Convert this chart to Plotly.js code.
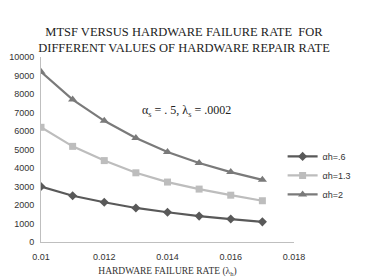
<!DOCTYPE html>
<html>
<head>
<meta charset="utf-8">
<script src="https://cdn.plot.ly/plotly-3.0.1.min.js"></script>
<style>
  html, body { margin: 0; padding: 0; background: #fff; }
  #chart { width: 368px; height: 280px; }
</style>
</head>
<body>
<div id="chart"></div>
<script>
// Hardware failure rate (lambda_h)
const failureRate = [0.010, 0.011, 0.012, 0.013, 0.014, 0.015, 0.016, 0.017];

// MTSF for each hardware repair rate
const mtsfAh06 = [3000, 2500, 2150, 1840, 1610, 1400, 1240, 1090];
const mtsfAh13 = [6200, 5170, 4400, 3740, 3240, 2860, 2530, 2230];
const mtsfAh2  = [9200, 7700, 6550, 5620, 4860, 4270, 3780, 3360];

const seriesNames = ['αh=.6', 'αh=1.3', 'αh=2'];

const xTicks = [0.010, 0.012, 0.014, 0.016, 0.018];
const xTickText = ['0.01', '0.012', '0.014', '0.016', '0.018'];
const yTicks = [0, 1000, 2000, 3000, 4000, 5000, 6000, 7000, 8000, 9000, 10000];
const yTickText = ['0', '1000', '2000', '3000', '4000', '5000', '6000', '7000', '8000', '9000', '10000'];

const serif = 'Liberation Serif, Times New Roman, serif';
const sans = 'Liberation Sans, Arial, sans-serif';

const traces = [
  { y: mtsfAh06, name: seriesNames[0], color: '#595959', symbol: 'diamond', size: 7 },
  { y: mtsfAh13, name: seriesNames[1], color: '#bdbdbd', symbol: 'square', size: 7 },
  { y: mtsfAh2,  name: seriesNames[2], color: '#7a7a7a', symbol: 'triangle-up', size: 8 }
].map(s => ({
  type: 'scatter',
  mode: 'lines+markers',
  x: failureRate,
  y: s.y,
  name: s.name,
  line: { color: s.color, width: 2.2 },
  marker: { color: s.color, symbol: s.symbol, size: s.size }
}));

const layout = {
  width: 368,
  height: 280,
  margin: { l: 41, r: 50, t: 57, b: 38 },
  paper_bgcolor: '#ffffff',
  plot_bgcolor: '#ffffff',
  showlegend: true,
  title: {
    text: 'MTSF VERSUS HARDWARE FAILURE RATE  FOR<br>DIFFERENT VALUES OF HARDWARE REPAIR RATE',
    font: { family: serif, size: 12.5, color: '#222' },
    xref: 'container', x: 0.5, xanchor: 'center',
    yref: 'container', y: 0.873, yanchor: 'middle'
  },
  xaxis: {
    range: [0.010, 0.018],
    tickvals: xTicks,
    ticktext: xTickText,
    showgrid: false,
    zeroline: false,
    showline: true,
    linecolor: '#bfbfbf',
    linewidth: 1,
    ticks: '',
    ticklabelstandoff: 6,
    tickfont: { family: sans, size: 9, color: '#333' },
    title: {
      text: 'HARDWARE FAILURE RATE (λ<sub>h</sub>)',
      font: { family: serif, size: 9.5, color: '#333' },
      standoff: 6
    }
  },
  yaxis: {
    range: [0, 10000],
    tickvals: yTicks,
    ticktext: yTickText,
    showgrid: false,
    zeroline: false,
    showline: true,
    linecolor: '#bfbfbf',
    linewidth: 1,
    ticks: '',
    ticklabelstandoff: 4,
    tickfont: { family: sans, size: 9, color: '#333' }
  },
  legend: {
    x: 0.955, xanchor: 'left',
    y: 0.36, yanchor: 'middle',
    bgcolor: 'rgba(255,255,255,0)',
    font: { family: sans, size: 9, color: '#333' },
    itemwidth: 30,
    tracegroupgap: 4
  },
  annotations: [{
    x: 0.01459, y: 7100, xref: 'x', yref: 'y',
    text: 'α<sub>s</sub> = . 5, λ<sub>s</sub> = .0002',
    showarrow: false,
    font: { family: serif, size: 12, color: '#222' }
  }]
};

Plotly.newPlot('chart', traces, layout, { displayModeBar: false, staticPlot: true });
</script>
</body>
</html>
